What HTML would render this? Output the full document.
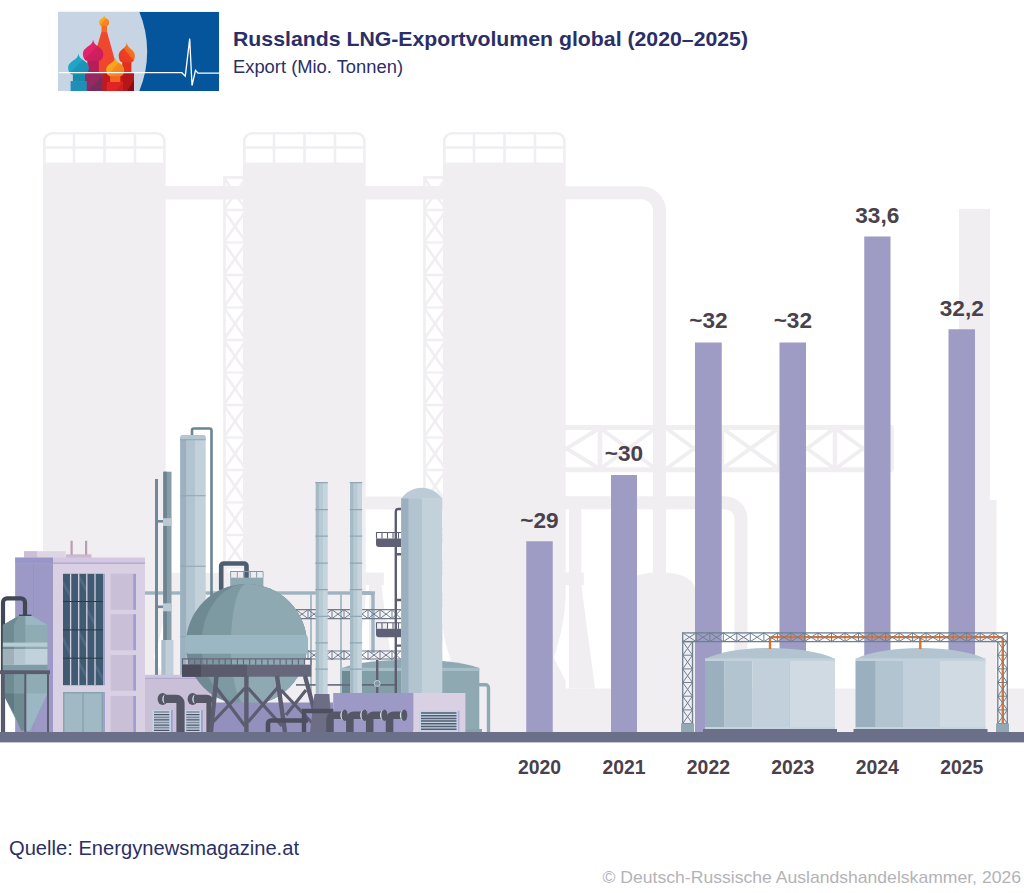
<!DOCTYPE html>
<html lang="de">
<head>
<meta charset="utf-8">
<title>Russlands LNG-Exportvolumen global (2020–2025)</title>
<style>
  html, body { margin:0; padding:0; background:#ffffff; }
  body { width:1024px; height:893px; overflow:hidden; position:relative;
         font-family:"Liberation Sans", sans-serif; }
  svg { position:absolute; left:0; top:0; display:block; }
  text { font-family:"Liberation Sans", sans-serif; }
  .ttl { font-weight:700; font-size:21px; fill:#2b2f66; }
  .sub { font-size:17.5px; fill:#2b2f66; }
  .src { font-size:20px; fill:#2b2f66; }
  .cpy { font-size:17px; fill:#b3b3b7; }
  .val { font-weight:700; font-size:22.6px; fill:#4a414b; text-anchor:middle; }
  .yr  { font-weight:700; font-size:19.4px; fill:#4a414b; text-anchor:middle; }
</style>
</head>
<body>
<svg width="1024" height="893" viewBox="0 0 1024 893">
<defs>
  <pattern id="latt" x="223.2" y="177.5" width="23.6" height="32.5" patternUnits="userSpaceOnUse">
    <path d="M0 0H23.6M0 32.5H23.6M1.5 1.5L22.1 31M22.1 1.5L1.5 31" stroke="#f0eef1" stroke-width="2.6" fill="none"/>
  </pattern>
</defs>

<!-- ================= BACKGROUND SILHOUETTE ================= -->
<g id="bg" fill="#f0eef1" stroke="none">
  <!-- lattice towers -->
  <g id="lat1">
    <rect x="223.2" y="176" width="23.6" height="520" fill="url(#latt)"/>
    <rect x="223.2" y="176" width="23.6" height="2.6"/>
    <rect x="223.2" y="176" width="2.6" height="520"/>
  </g>
  <use href="#lat1" x="200"/>
  <!-- connecting pipes between silos -->
  <rect x="160" y="186" width="90" height="13.5"/>
  <rect x="360" y="186" width="90" height="13.5"/>
  <!-- silos -->
  <g id="silo">
    <rect x="43" y="162.5" width="122.7" height="570"/>
    <path d="M44.3 163V141a7.7 7.7 0 0 1 7.7-7.7H156.7a7.7 7.7 0 0 1 7.7 7.7V163M44.3 147.5H164.4M74 133.3V163M104.5 133.3V163M135 133.3V163" fill="none" stroke="#f0eef1" stroke-width="2.6"/>
  </g>
  <use href="#silo" x="200"/>
  <use href="#silo" x="400"/>
  <!-- big pipe from silo 3 going right and down -->
  <path d="M560 192.75H641a18.5 18.5 0 0 1 18.5 18.5V735" fill="none" stroke="#f0eef1" stroke-width="13"/>
  <!-- lower pipe -->
  <path d="M560 502.75H725a16 16 0 0 1 16 16V735" fill="none" stroke="#f0eef1" stroke-width="13"/>
  <!-- horizontal truss -->
  <g fill="none" stroke="#f0eef1" stroke-width="5">
    <path d="M560 427.5H893M560 469.7H893"/>
    <path d="M600 427V470M722 427V470M779 427V470M835 427V470M891.5 427V470" stroke-width="4.5"/>
    <path d="M533 428L600 469M533 469L600 428M600 428L656 469M600 469L656 428M666 428L722 469M666 469L722 428M722 428L779 469M722 469L779 428M779 428L835 469M779 469L835 428M835 428L891 469M835 469L891 428" stroke-width="4"/>
  </g>
  <rect x="533" y="420" width="32" height="60"/>
  <!-- small vertical pipe + flange + tapered tower base (right of silo 3) -->
  <rect x="569" y="505" width="12.3" height="70"/>
  <g id="skirt">
    <rect x="565" y="572.5" width="18.8" height="12.7"/>
    <path d="M568.8 585H581.3L595 688.5H568.8Z"/>
  </g>
  <!-- same right of silo 2, with its feeding pipe -->
  <use href="#skirt" x="-200"/>
  <rect x="360" y="496.5" width="90" height="13"/>
  <!-- block between silo 1 and 2 -->
  <rect x="165" y="573" width="80" height="160"/>
  <rect x="365" y="688.5" width="80" height="45"/>
  <!-- dome tank -->
  <path d="M624 735V590C624 578 640 572.5 659.5 572.5S695 578 695 590V735Z"/>
  <!-- long low block -->
  <rect x="552" y="688.5" width="472" height="46"/>
  <!-- far right column -->
  <rect x="959" y="209" width="31" height="480"/>
  <rect x="959" y="500" width="37.5" height="190"/>
</g>

<!-- white tapered cut-outs at the silo feet -->
<g fill="#ffffff">
  <path id="cutR" d="M566.2 585C566 615 560 640 553.7 657.5L568.8 687.5V585Z"/>
  <use href="#cutR" x="-200"/>
  <use href="#cutR" x="-400"/>
  <path id="cutL" d="M442.8 626C444 640 447.5 651 451 659L442.8 671Z"/>
  <use href="#cutL" x="-200"/>
</g>

<!-- ================= BARS ================= -->
<g id="bars" fill="#9e9cc5">
  <rect x="526.25" y="541.25" width="26.5" height="192"/>
  <rect x="611"    y="475"    width="26"   height="258"/>
  <rect x="695"    y="342.5"  width="26.75" height="391"/>
  <rect x="779.5"  y="342.5"  width="26.5" height="391"/>
  <rect x="864.25" y="236.5"  width="26.25" height="497"/>
  <rect x="948.5"  y="329.25" width="26.5" height="404"/>
</g>

<!--P1--><!-- ================= PLANT (left foreground) ================= -->
<g id="plant">
  <!-- back pipes / horizontal pipe -->
  <rect x="145" y="591.3" width="230" height="3.4" fill="#9db4c0"/>
  <path d="M360 593H370a3 3 0 0 1 3 3V653" fill="none" stroke="#9db4c0" stroke-width="3.4"/>
  <rect x="310" y="594" width="2" height="106" fill="#a9bec8"/>
  <rect x="340" y="594" width="2" height="106" fill="#a9bec8"/>

  <!-- thin pipe pair left of tall column -->
  <rect x="155" y="479" width="3" height="253" fill="#71889a"/>
  <rect x="163.3" y="471.7" width="8.2" height="230" fill="#879daa"/>
  <rect x="163.3" y="471.7" width="3.6" height="230" fill="#6c8392"/>
  <rect x="158" y="520" width="6" height="2.6" fill="#71889a"/>
  <rect x="163" y="518.2" width="8.8" height="7.7" fill="#b9cad4"/>
  <rect x="158" y="605.5" width="6" height="2.6" fill="#71889a"/>
  <rect x="163" y="603.3" width="8.8" height="8" fill="#b9cad4"/>
  <rect x="161.5" y="640" width="12" height="92" fill="#c0cfd9"/>
  <rect x="161.5" y="640" width="4" height="92" fill="#a9bcc8"/>

  <!-- tall column 1 -->
  <path d="M192 437V430.5a2 2 0 0 1 2-2H209.5a2 2 0 0 1 2 2V700" fill="none" stroke="#6d8494" stroke-width="2.6"/>
  <path d="M180.2 438a3 3 0 0 1 3-3H202.7a3 3 0 0 1 3 3V732H180.2Z" fill="#c3d1db"/>
  <rect x="186.2" y="439" width="8.7" height="293" fill="#b2c4cf"/>
  <rect x="180.2" y="439" width="6" height="293" fill="#9bb1bf"/>
  <path d="M180.2 437.5a2.5 2.5 0 0 1 2.5-2.5H203.2a2.5 2.5 0 0 1 2.5 2.5V439.5H180.2Z" fill="#b5c6d1"/>
  <path d="M180.2 439.7H205.7M180.2 495.8H205.7M180.2 566.3H205.7M180.2 636.8H205.7" stroke="#8ea5b3" stroke-width="1.1" fill="none"/>

  <!-- ===== main building ===== -->
  <rect x="24" y="551.2" width="41.7" height="7" fill="#ddd5e3"/>
  <rect x="24" y="551.2" width="13" height="7" fill="#cbbfd6"/>
  <rect x="66" y="554.3" width="25.5" height="4" fill="#cdb9cf"/>
  <rect x="70.5" y="540.8" width="2.2" height="14" fill="#b99db6"/>
  <rect x="85" y="540.8" width="2.2" height="14" fill="#b99db6"/>
  <rect x="15.2" y="557.7" width="129.8" height="175" fill="#d9d0e4"/>
  <rect x="15.2" y="557.7" width="37.8" height="175" fill="#9d99c6"/>
  <rect x="33" y="563" width="1" height="170" fill="#9693c2"/>
  <rect x="15.2" y="557.7" width="129.8" height="5.4" fill="#d3c7e1"/>
  <rect x="15.2" y="557.7" width="37.8" height="5.4" fill="#9896c8"/>
  <rect x="53" y="562.6" width="92" height="1.2" fill="#aaa4d4"/>
  <!-- dark window -->
  <rect x="103" y="573.8" width="2" height="111.4" fill="#a3a1cc"/>
  <rect x="63" y="573.8" width="40" height="111.4" fill="#3f5b71"/>
  <g fill="#55708a" opacity=".7">
    <path d="M63 580L70 592V598L63 586Z"/><path d="M79 574L87 588V594L79 580Z"/>
    <path d="M87 607L95 621V627L87 613Z"/><path d="M63 636L70 650V656L63 642Z"/>
    <path d="M79 630L87 644V650L79 636Z"/><path d="M95 662L103 676V682L95 668Z"/>
    <path d="M79 660L87 674V680L79 666Z"/>
  </g>
  <path d="M70.6 573.8V685.2M78.7 573.8V685.2M86.8 573.8V685.2M95 573.8V685.2" stroke="#d9d0e4" stroke-width="1.3" fill="none"/>
  <path d="M63 601.5H103M63 629.9H103M63 658.2H103" stroke="#26394b" stroke-width="1" fill="none"/>
  <!-- door -->
  <rect x="103" y="692" width="2" height="40" fill="#a3a1cc"/>
  <rect x="63" y="692" width="40" height="40" fill="#86a4ab"/>
  <rect x="64.5" y="693.5" width="17.8" height="38.5" fill="#a1b8c5"/>
  <rect x="83.8" y="693.5" width="17.8" height="38.5" fill="#a1b8c5"/>
  <!-- right panels -->
  <g fill="#c9bfd6">
    <rect x="110.7" y="573.8" width="22.5" height="36"/>
    <rect x="110.7" y="614.2" width="22.5" height="36"/>
    <rect x="110.7" y="655" width="22.5" height="35.7"/>
    <rect x="110.7" y="696" width="22.5" height="36"/>
  </g>
  <g fill="#a19fd0">
    <rect x="133.2" y="573.8" width="2.8" height="36"/>
    <rect x="133.2" y="614.2" width="2.8" height="36"/>
    <rect x="133.2" y="655" width="2.8" height="35.7"/>
    <rect x="133.2" y="696" width="2.8" height="36"/>
  </g>

  <!-- ===== hopper silo ===== -->
  <path d="M3 732V602.4a4 4 0 0 1 4-4H21a4 4 0 0 1 4 4V616" fill="none" stroke="#404757" stroke-width="4.2"/>
  <path d="M19.2 615.4H31.3L47.4 625V693.6L30 730.5H21L2.9 693.6V625Z" fill="#8fabb3"/>
  <path d="M25.3 615.4H31.3L47.4 625H25.3Z" fill="#9bb7c3"/>
  <path d="M19.2 615.4H25.3V730.5H21L14 714V625Z" fill="#7f9ca4"/>
  <path d="M19.2 615.4L14 625V714L2.9 693.6V625Z" fill="#6f8b92"/>
  <path d="M25.3 693.6H47.4L30 730.5H25.3Z" fill="#9bb7c3"/>
  <path d="M14 693.6H25.3V730.5H21L14 714Z" fill="#6f8b92"/>
  <path d="M2.9 693.6H14V714Z" fill="#5f7a82"/>
  <rect x="2.9" y="664.7" width="44.5" height="5.6" fill="#7f9ca4"/>
  <rect x="2.9" y="642.6" width="44.5" height="4.1" fill="#b8cdd3"/>
  <rect x="2.9" y="649" width="44.5" height="15.7" fill="#c2d2dc"/>
  <rect x="2.9" y="649" width="11.1" height="15.7" fill="#9fb0b8"/>
  <rect x="14" y="649" width="11.3" height="15.7" fill="#b4c6d0"/>
  <rect x="19" y="614.6" width="12.5" height="1.4" fill="#404757"/>
  <rect x="0" y="670.3" width="50" height="3.8" fill="#5a5b6e"/>
  <rect x="1.2" y="674" width="3.6" height="58" fill="#5a5b6e"/>
  <rect x="24.3" y="674" width="2" height="58" fill="#5a5b6e"/>
  <rect x="47" y="674" width="2" height="58" fill="#5a5b6e"/>
</g>
<!--/P1-->
<!--P2--><!-- ===== plant part 2: columns, tower, tank, sphere, pipes ===== -->
<g id="plant2">
  <rect x="296" y="684.1" width="50" height="1.6" fill="#66677b"/>
  <!-- trusses behind -->
  <g fill="none" stroke="#6e7b8c" stroke-width="1.2">
    <path d="M296 609.6H401M296 618.6H401M296 651H401M296 659H401"/>
    <path id="tx" stroke-width="1" d="M296 609.6V618.6M308 609.6V618.6M320 609.6V618.6M332 609.6V618.6M344 609.6V618.6M356 609.6V618.6M368 609.6V618.6M380 609.6V618.6M392 609.6V618.6M296 609.6L308 618.6M296 618.6L308 609.6M308 609.6L320 618.6M308 618.6L320 609.6M320 609.6L332 618.6M320 618.6L332 609.6M332 609.6L344 618.6M332 618.6L344 609.6M344 609.6L356 618.6M344 618.6L356 609.6M356 609.6L368 618.6M356 618.6L368 609.6M368 609.6L380 618.6M368 618.6L380 609.6M380 609.6L392 618.6M380 618.6L392 609.6M392 609.6L401 618.6M392 618.6L401 609.6"/>
    <use href="#tx" y="41"/>
  </g>

  <!-- low teal tank -->
  <path d="M342 668C360 661.5 385 659.7 410.5 659.7S461 661.5 479.3 668V730H342Z" fill="#8fa9b3"/>
  <rect x="342" y="667.8" width="137.3" height="3.2" fill="#a5bec7"/>
  <rect x="342" y="671" width="8" height="59" fill="#6f8a93"/>
  <rect x="350" y="671" width="52" height="59" fill="#829ea7"/>
  <path d="M479 684.7H485.5a3 3 0 0 1 3 3V732" fill="none" stroke="#8fa9b3" stroke-width="3.4"/>
  <rect x="465" y="729" width="17" height="3.5" fill="#89a2ad"/>
  <!-- pipes in front of tank -->
  <path d="M342 684.9H397" stroke="#66677b" stroke-width="1.6" fill="none"/><path d="M377.2 660V693" stroke="#5f6075" stroke-width="2.4" fill="none"/>
  <circle cx="377.2" cy="683.4" r="3" fill="#7f9aa3" stroke="#c8d5de" stroke-width=".9"/>

  <!-- ladder + platforms on round-top tower -->
  <path d="M402 509H398.3a2.5 2.5 0 0 0-2.5 2.5V693M395.8 554.2H402M395.8 600H402M395.8 645.6H402" fill="none" stroke="#5c5d70" stroke-width="2.4"/>
  <g id="plat">
    <path d="M376 538.6H401.5V547H379a3 3 0 0 1-3-3Z" fill="#5f6075"/>
    <path d="M376.5 538.6V532.5H401.5M382 532.5V538.6M387.5 532.5V538.6M393 532.5V538.6M398.5 532.5V538.6" fill="none" stroke="#5f6075" stroke-width="1.1"/>
  </g>
  <use href="#plat" y="90.2"/>

  <!-- round-top tower -->
  <path d="M401.2 498.8A24.6 24.6 0 0 1 442.3 498.8Z" fill="#bccbd6"/>
  <rect x="401.2" y="498.4" width="41.1" height="195" fill="#c3d1db"/>
  <rect x="408.6" y="498.4" width="13.3" height="195" fill="#b2c4cf"/>
  <rect x="401.2" y="498.4" width="7.4" height="195" fill="#9bb0bf"/>

  <!-- thin columns A and B -->
  <g id="colA">
    <rect x="315.8" y="482" width="11.6" height="212" fill="#b8cad3"/>
    <rect x="315.8" y="482" width="3" height="212" fill="#a3b9c4"/>
    <rect x="323" y="482" width="4.4" height="212" fill="#c6d5dd"/>
    <path d="M315.3 482.6H327.8M315.3 509.7H327.8M315.3 536.2H327.8M315.3 563.1H327.8M315.3 589.6H327.8M315.3 616.3H327.8M315.3 642.8H327.8M315.3 669.2H327.8" stroke="#8fa7b4" stroke-width="1.2" fill="none"/>
  </g>
  <use href="#colA" x="34.4"/>

  <!-- small annex building -->
  <rect x="145" y="674.9" width="66.6" height="58" fill="#c9bfd6"/>
  <rect x="145" y="674.9" width="66.6" height="3" fill="#cec4da"/>
  <rect x="145" y="677.8" width="66.6" height="1" fill="#aaa4d4"/>
  <g id="vent">
    <rect x="170.9" y="710" width="1.9" height="22" fill="#a19fd0"/>
    <rect x="152.4" y="710" width="18.5" height="22" fill="#c5d3e6"/>
    <path d="M154 712H169.3M154 717.3H169.3M154 722.5H169.3M154 727.7H169.3" stroke="#7d8998" stroke-width="1.7" fill="none"/>
    <path d="M154 714.6H169.3M154 719.9H169.3M154 725.1H169.3M154 730.3H169.3" stroke="#4b5364" stroke-width="1.3" fill="none"/>
  </g>
  <rect x="201" y="710" width="1.9" height="22" fill="#a19fd0"/>
  <rect x="184.8" y="710" width="16.2" height="22" fill="#c5d3e6"/>
  <path d="M186.3 712H199.5M186.3 717.3H199.5M186.3 722.5H199.5M186.3 727.7H199.5" stroke="#7d8998" stroke-width="1.7" fill="none"/>
  <path d="M186.3 714.6H199.5M186.3 719.9H199.5M186.3 725.1H199.5M186.3 730.3H199.5" stroke="#4b5364" stroke-width="1.3" fill="none"/>
  <g id="elbow">
    <path d="M164 698.9H176.3a4.2 4.2 0 0 1 4.2 4.2V732" fill="none" stroke="#565766" stroke-width="8.2"/>
    <ellipse cx="162.6" cy="699" rx="5" ry="5.9" fill="#565766"/>
    <path d="M165 694.4a3.8 4.8 0 0 0 0 9.2a2 4.8 0 0 1 0-9.2Z" fill="#d4e6ea"/>
  </g>
  <use href="#elbow" x="30"/>

  <!-- ===== sphere ===== -->
  <path d="M221.2 590V566a2.5 2.5 0 0 1 2.5-2.5H244a2.5 2.5 0 0 1 2.5 2.5V578" fill="none" stroke="#4f5d70" stroke-width="4.6"/>
  <rect x="230.2" y="577.6" width="33.2" height="10" fill="#8fa9b3"/>
  <path d="M230.7 577.6V571.5H263M237.2 571.5V577.6M243.7 571.5V577.6M250.2 571.5V577.6M256.7 571.5V577.6M263 571.5V577.6" fill="none" stroke="#8198a6" stroke-width="1.1"/>
  <g fill="#ecebf0"><rect x="231.5" y="572.3" width="5" height="4.8"/><rect x="238" y="572.3" width="5" height="4.8"/><rect x="251" y="572.3" width="5" height="4.8"/><rect x="257.5" y="572.3" width="5" height="4.8"/></g>
  <circle cx="246.4" cy="644.6" r="60.6" fill="#6f8a93"/>
  <path d="M246.4 584A45 60.6 0 0 0 246.4 705.2A60.6 60.6 0 0 0 246.4 584Z" fill="#7d99a2"/>
  <path d="M246.4 584A15.5 60.6 0 0 0 246.4 705.2A60.6 60.6 0 0 0 246.4 584Z" fill="#8fa9b3"/>
  <rect x="185" y="634.9" width="123" height="18.8" rx="4" fill="#9bb7c3"/>
  <!-- purple base behind legs -->
  <rect x="211" y="702.5" width="122" height="30" fill="#9390bd"/>
  <!-- platform -->
  <rect x="182" y="664.7" width="129.3" height="12" fill="#66677b"/>
  <rect x="182" y="664.7" width="65" height="12" fill="#5a5b6c"/>
  <rect x="182" y="664.7" width="19" height="12" fill="#4c4d5c"/>
  <path d="M182.5 664.7V658.8H311V664.7M188.6 658.8V664.7M194.7 658.8V664.7M200.8 658.8V664.7M206.9 658.8V664.7M213 658.8V664.7M219.1 658.8V664.7M225.2 658.8V664.7M231.3 658.8V664.7M237.4 658.8V664.7M243.5 658.8V664.7M249.6 658.8V664.7M255.7 658.8V664.7M261.8 658.8V664.7M267.9 658.8V664.7M274 658.8V664.7M280.1 658.8V664.7M286.2 658.8V664.7M292.3 658.8V664.7M298.4 658.8V664.7M304.5 658.8V664.7" fill="none" stroke="#66677b" stroke-width="1.2"/>
  <!-- legs -->
  <g fill="none" stroke="#5c5d70" stroke-width="4.4">
    <path d="M216.5 676L211 732M246.4 676V732M277 676L285 732M305 676L320 732"/>
    <path d="M215 686L245 726M245 688L213 722M248 688L282 726M279 686L248 722M281 690L315 726M306 690L286 715" stroke-width="3.2"/>
  </g>

  <!-- trapezoid base under column A + dark pipes -->
  <path d="M314.5 694H329.4L331.8 732H310Z" fill="#6d6e85"/>
  <path d="M268 732V723.5a3 3 0 0 1 3-3H308" fill="none" stroke="#4d4e5e" stroke-width="4.6"/>
  <path d="M304 732V711H340" fill="none" stroke="#4d4e5e" stroke-width="4.4"/>

  <!-- front purple building -->
  <rect x="333.2" y="693" width="80.2" height="40" fill="#9d99c6"/>
  <rect x="413.4" y="693" width="52" height="40" fill="#d9d0e4"/>
  <rect x="419.2" y="710.6" width="39" height="21" fill="#c5d3e6"/>
  <path d="M421 713H456.5M421 715.7H456.5M421 718.4H456.5M421 721.1H456.5M421 723.8H456.5M421 726.5H456.5M421 729.2H456.5" stroke="#525d6f" stroke-width="1.5" fill="none"/>
  <rect x="458.2" y="710.6" width="1.2" height="21" fill="#aaa4d4"/>
  <!-- four elbow pipes -->
  <g id="el2">
    <path d="M330 732V719.2a4 4 0 0 1 4-4H344" fill="none" stroke="#565766" stroke-width="7.6"/>
    <ellipse cx="344.8" cy="715.2" rx="2.9" ry="5.7" fill="#565766"/>
    <path d="M343.3 710.2a3 5 0 0 0 0 10a1.6 5 0 0 1 0-10Z" fill="#cfe3e8"/>
  </g>
  <use href="#el2" x="19.85"/>
  <use href="#el2" x="39.7"/>
  <use href="#el2" x="59.55"/>
</g>
<!--/P2-->

<!-- ================= TANKS + PIPE RACK ================= -->
<g id="tanks">
  <g id="tank">
    <path d="M705 659C720 651.5 745 648 770 648S820 651.5 835 659Z" fill="#b2c4cf"/>
    <rect x="705" y="658.4" width="130" height="3" fill="#c2d1db"/>
    <rect x="705" y="661" width="19.6" height="66.5" fill="#9bb0bf"/>
    <rect x="724.6" y="661" width="27.9" height="66.5" fill="#b2c4cf"/>
    <rect x="752.5" y="661" width="37" height="66.5" fill="#c2d0db"/>
    <rect x="789.5" y="661" width="45.5" height="66.5" fill="#d0dae3"/>
    <rect x="705" y="727" width="130" height="2.2" fill="#c6d4de"/>
    <rect x="703" y="729" width="134" height="4" fill="#6b6f88"/>
  </g>
  <use href="#tank" x="150.5"/>
  <!-- orange pipe -->
  <path d="M770 649V639.6a2.5 2.5 0 0 1 2.5-2.5H1000.3a2.5 2.5 0 0 1 2.5 2.5V723M920.3 637V649" fill="none" stroke="#dd7430" stroke-width="2.4"/>
  <!-- rack -->
  <g fill="none" stroke="#6e8090" stroke-width="1.3">
    <rect x="682.7" y="632.9" width="324.6" height="8.7"/>
    <path d="M682.7 632.9L696.2 641.6M682.7 641.6L696.2 632.9M696.2 632.9L709.8 641.6M696.2 641.6L709.8 632.9M696.2 632.9V641.6M709.8 632.9L723.3 641.6M709.8 641.6L723.3 632.9M709.8 632.9V641.6M723.3 632.9L736.8 641.6M723.3 641.6L736.8 632.9M723.3 632.9V641.6M736.8 632.9L750.3 641.6M736.8 641.6L750.3 632.9M736.8 632.9V641.6M750.3 632.9L763.9 641.6M750.3 641.6L763.9 632.9M750.3 632.9V641.6M763.9 632.9L777.4 641.6M763.9 641.6L777.4 632.9M763.9 632.9V641.6M777.4 632.9L790.9 641.6M777.4 641.6L790.9 632.9M777.4 632.9V641.6M790.9 632.9L804.4 641.6M790.9 641.6L804.4 632.9M790.9 632.9V641.6M804.4 632.9L817.9 641.6M804.4 641.6L817.9 632.9M804.4 632.9V641.6M818.0 632.9L831.5 641.6M818.0 641.6L831.5 632.9M818.0 632.9V641.6M831.5 632.9L845.0 641.6M831.5 641.6L845.0 632.9M831.5 632.9V641.6M845.0 632.9L858.5 641.6M845.0 641.6L858.5 632.9M845.0 632.9V641.6M858.5 632.9L872.0 641.6M858.5 641.6L872.0 632.9M858.5 632.9V641.6M872.0 632.9L885.6 641.6M872.0 641.6L885.6 632.9M872.0 632.9V641.6M885.6 632.9L899.1 641.6M885.6 641.6L899.1 632.9M885.6 632.9V641.6M899.1 632.9L912.6 641.6M899.1 641.6L912.6 632.9M899.1 632.9V641.6M912.6 632.9L926.1 641.6M912.6 641.6L926.1 632.9M912.6 632.9V641.6M926.1 632.9L939.7 641.6M926.1 641.6L939.7 632.9M926.1 632.9V641.6M939.7 632.9L953.2 641.6M939.7 641.6L953.2 632.9M939.7 632.9V641.6M953.2 632.9L966.7 641.6M953.2 641.6L966.7 632.9M953.2 632.9V641.6M966.7 632.9L980.2 641.6M966.7 641.6L980.2 632.9M966.7 632.9V641.6M980.2 632.9L993.8 641.6M980.2 641.6L993.8 632.9M980.2 632.9V641.6M993.8 632.9L1007.3 641.6M993.8 641.6L1007.3 632.9M993.8 632.9V641.6" stroke-width="1"/>
    <rect x="682.7" y="641.6" width="9.8" height="82"/>
    <rect x="997.8" y="641.6" width="9.5" height="82"/>
    <path d="M682.7 641.6L692.5 655.2M692.5 641.6L682.7 655.2M682.7 655.2L692.5 668.9M692.5 655.2L682.7 668.9M682.7 655.2H692.5M682.7 668.9L692.5 682.5M692.5 668.9L682.7 682.5M682.7 668.9H692.5M682.7 682.5L692.5 696.2M692.5 682.5L682.7 696.2M682.7 682.5H692.5M682.7 696.2L692.5 709.9M692.5 696.2L682.7 709.9M682.7 696.2H692.5M682.7 709.9L692.5 723.5M692.5 709.9L682.7 723.5M682.7 709.9H692.5M997.8 641.6L1007.3 655.2M1007.3 641.6L997.8 655.2M997.8 655.2L1007.3 668.9M1007.3 655.2L997.8 668.9M997.8 655.2H1007.3M997.8 668.9L1007.3 682.5M1007.3 668.9L997.8 682.5M997.8 668.9H1007.3M997.8 682.5L1007.3 696.2M1007.3 682.5L997.8 696.2M997.8 682.5H1007.3M997.8 696.2L1007.3 709.9M1007.3 696.2L997.8 709.9M997.8 696.2H1007.3M997.8 709.9L1007.3 723.5M1007.3 709.9L997.8 723.5M997.8 709.9H1007.3" stroke-width="1"/>
  </g>
  <rect x="681" y="723.5" width="13" height="9" fill="#92a9b5"/>
  <rect x="996" y="723.5" width="13" height="9" fill="#92a9b5"/>
</g>


<!-- ground -->
<rect x="0" y="732" width="1024" height="10.4" fill="#6b6f88"/>

<!-- ================= TEXT ================= -->
<g id="labels">
  <text class="val" x="539.5" y="527.5">~29</text>
  <text class="val" x="624"   y="461">~30</text>
  <text class="val" x="708.4" y="328.3">~32</text>
  <text class="val" x="792.8" y="328.3">~32</text>
  <text class="val" x="877.3" y="222.5">33,6</text>
  <text class="val" x="961.8" y="315.7">32,2</text>
  <text class="yr" x="539.5" y="773.7">2020</text>
  <text class="yr" x="624"   y="773.7">2021</text>
  <text class="yr" x="708.4" y="773.7">2022</text>
  <text class="yr" x="792.8" y="773.7">2023</text>
  <text class="yr" x="877.3" y="773.7">2024</text>
  <text class="yr" x="961.8" y="773.7">2025</text>
</g>
<text class="ttl" x="233" y="46" textLength="515" lengthAdjust="spacingAndGlyphs">Russlands LNG-Exportvolumen global (2020–2025)</text>
<text class="sub" x="233" y="73" textLength="170" lengthAdjust="spacingAndGlyphs">Export (Mio. Tonnen)</text>
<text class="src" x="9" y="855" textLength="290" lengthAdjust="spacingAndGlyphs">Quelle: Energynewsmagazine.at</text>
<text class="cpy" x="602.5" y="883" textLength="418.5" lengthAdjust="spacingAndGlyphs">© Deutsch-Russische Auslandshandelskammer, 2026</text>

<!-- ================= LOGO ================= -->
<defs>
  <linearGradient id="gO" x1="0" y1="0" x2="1" y2="1"><stop offset="0" stop-color="#fbb216"/><stop offset=".5" stop-color="#f9a11b"/><stop offset=".5" stop-color="#f68b1f"/><stop offset="1" stop-color="#f47a20"/></linearGradient>
  <linearGradient id="gM" x1="0" y1="0" x2="1" y2="1"><stop offset="0" stop-color="#e8286f"/><stop offset=".5" stop-color="#e02468"/><stop offset=".5" stop-color="#d21f60"/><stop offset="1" stop-color="#c81d5c"/></linearGradient>
  <linearGradient id="gT" x1="0" y1="0" x2="1" y2="1"><stop offset="0" stop-color="#22a9cb"/><stop offset=".5" stop-color="#1fa4c6"/><stop offset=".5" stop-color="#1a97ba"/><stop offset="1" stop-color="#1a8fb2"/></linearGradient>
  <linearGradient id="gR" x1="0" y1="1" x2="1" y2="0"><stop offset="0" stop-color="#e8381f"/><stop offset=".5" stop-color="#ee4023"/><stop offset=".5" stop-color="#f26522"/><stop offset="1" stop-color="#f7941e"/></linearGradient>
  <linearGradient id="gC" x1="0" y1="0" x2="1" y2="1"><stop offset="0" stop-color="#f04a2e"/><stop offset=".62" stop-color="#ef452d"/><stop offset=".62" stop-color="#e22d24"/><stop offset=".8" stop-color="#dc2622"/><stop offset=".8" stop-color="#cf1f1f"/><stop offset="1" stop-color="#c91b1d"/></linearGradient>
  <clipPath id="lgc"><rect x="58.5" y="11.8" width="160.6" height="79.3"/></clipPath>
</defs>
<g id="logo" clip-path="url(#lgc)">
  <rect x="58.5" y="11.8" width="160.6" height="79.3" fill="#04559b"/>
  <path d="M58.5 11.8H139.3A103.7 103.7 0 0 1 139.3 91.1H58.5Z" fill="#c6d4e4"/>
  <!-- central tower -->
  <path d="M101.5 31.8H107L123.5 91.1H84Z" fill="url(#gC)"/>
  <rect x="101.5" y="25" width="5.5" height="7.2" fill="#f26a25"/>
  <path d="M104.2 15.2C104.35 18.65 109.20 18.65 109.20 22.1C109.20 24.64 107.94 26 106.90 26H101.50C100.47 26 99.20 24.64 99.20 22.1C99.20 18.65 104.05 18.65 104.2 15.2Z" fill="url(#gO)"/>
  <!-- right dome -->
  <rect x="122.2" y="61" width="9.2" height="12" fill="#e2301f"/>
  <path d="M126.8 42.2C127.04 48.90 134.90 48.90 134.90 55.6C134.90 59.89 133.09 62.2 131.60 62.2H122.00C120.52 62.2 118.70 59.89 118.70 55.6C118.70 48.90 126.56 48.90 126.8 42.2Z" fill="url(#gR)"/>
  <path d="M121.2 72.5H134V91.1H121.2Z" fill="#b4161a"/>
  <path d="M127 91.1L134 80V91.1Z" fill="#8f0a10"/>
  <path d="M121.2 72.5H126L121.2 79Z" fill="#c51d1e"/>
  <!-- magenta dome -->
  <rect x="87.3" y="59" width="11.6" height="14" fill="#b81d5a"/>
  <path d="M93.1 39.5C93.41 46.60 103.30 46.60 103.30 53.7C103.30 58.31 100.94 60.8 99.00 60.8H87.20C85.26 60.8 82.90 58.31 82.90 53.7C82.90 46.60 92.79 46.60 93.1 39.5Z" fill="url(#gM)"/>
  <rect x="84.5" y="72.5" width="18.1" height="18.6" fill="#96295f"/>
  <path d="M87 91.1L102.6 76V91.1Z" fill="#7a2c5c"/>
  <!-- lower red block (centre) -->
  <rect x="102.6" y="72.5" width="20.5" height="18.6" fill="#c4191c"/>
  <!-- yellow dome -->
  <rect x="110.1" y="75" width="10.2" height="7.5" fill="#f26522"/>
  <rect x="106.8" y="82" width="16.3" height="9.1" fill="#e02424"/>
  <path d="M115 91.1L123.1 83V91.1Z" fill="#d01d20"/>
  <path d="M115.2 57.2C115.47 63.35 124.20 63.35 124.20 69.5C124.20 73.86 122.11 76.2 120.40 76.2H110.00C108.29 76.2 106.20 73.86 106.20 69.5C106.20 63.35 114.93 63.35 115.2 57.2Z" fill="url(#gO)"/>
  <!-- teal dome -->
  <rect x="72.9" y="73" width="12.1" height="8.5" fill="#1789aa"/>
  <rect x="70.6" y="81.1" width="16.2" height="10" fill="#1e90b6"/>
  <path d="M78.5 53.5C78.81 60.55 88.90 60.55 88.90 67.6C88.90 72.02 86.59 74.4 84.70 74.4H72.30C70.41 74.4 68.10 72.02 68.10 67.6C68.10 60.55 78.19 60.55 78.5 53.5Z" fill="url(#gT)"/>
  <!-- darker tint under the line -->
  <!-- white ECG line -->
  <path d="M58.5 72.7H181.8L185.3 76.2L189.7 38.7L192 85.5L195.5 70.4L198 73.2H219.1" fill="none" stroke="#ffffff" stroke-width="1.3" stroke-linejoin="miter"/>
</g>

</svg>
</body>
</html>
